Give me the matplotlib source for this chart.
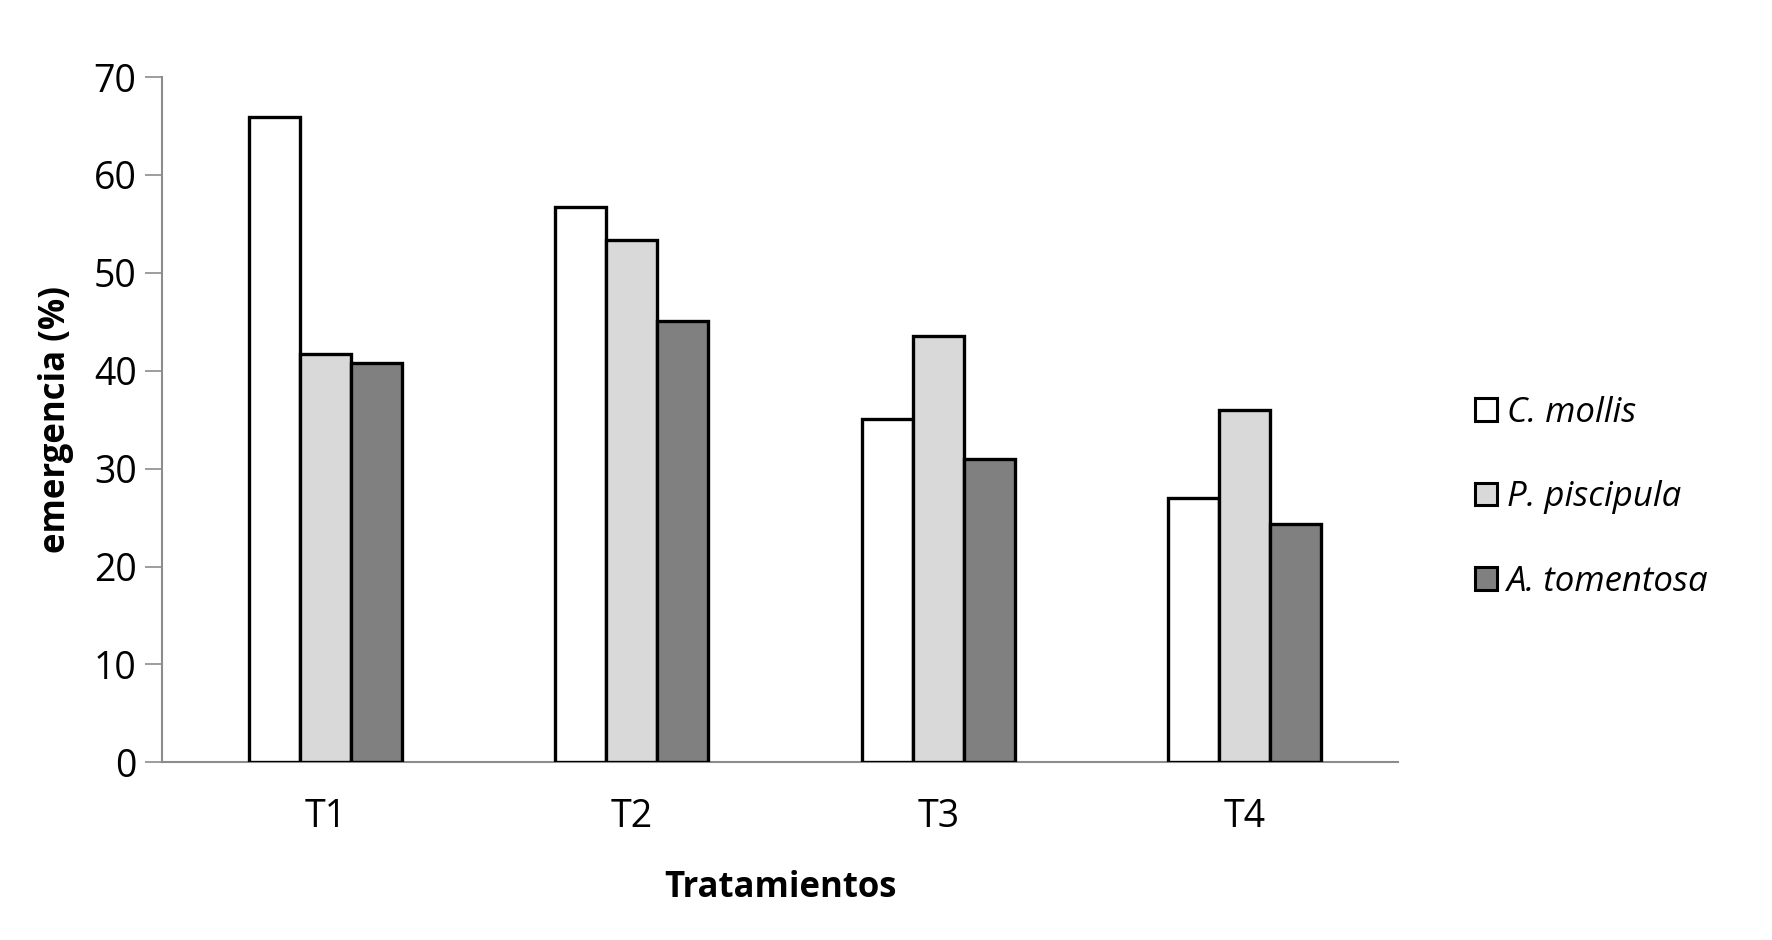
import numpy as np
import matplotlib
matplotlib.use("Agg")
import matplotlib.pyplot as plt

# emergencia (%) por tratamiento y especie
tratamientos = ["T1", "T2", "T3", "T4"]
especies = ["C. mollis", "P. piscipula", "A. tomentosa"]
c_mollis = [65.9, 56.7, 35.1, 27.0]
p_piscipula = [41.7, 53.4, 43.5, 36.0]
a_tomentosa = [40.8, 45.1, 31.0, 24.3]
colores = ["#ffffff", "#d9d9d9", "#808080"]
y_ticks = [0, 10, 20, 30, 40, 50, 60, 70]

plt.rcParams["font.family"] = ["Open Sans", "DejaVu Sans"]

fig = plt.figure(figsize=(17.72, 9.40), dpi=100)
ax = fig.add_axes([0.0912, 0.189, 0.698, 0.729])

x = np.arange(len(tratamientos))
w = 1 / 6
series = [c_mollis, p_piscipula, a_tomentosa]
for i, (vals, name, col) in enumerate(zip(series, especies, colores)):
    ax.bar(x + (i - 1) * w, vals, width=w, color=col, edgecolor="black",
           linewidth=2.4, label=name, zorder=3)

ax.set_xlim(-0.535, len(tratamientos) - 0.498)
ax.set_ylim(0, 70)
ax.set_yticks(y_ticks)
ax.set_xticks(x)
ax.set_xticklabels(tratamientos)
ax.tick_params(axis="y", length=12, width=1.2, color="#8c8c8c", labelsize=27, pad=6)
ax.tick_params(axis="x", length=0, labelsize=27, pad=26)

for s in ["top", "right"]:
    ax.spines[s].set_visible(False)
for s in ["left", "bottom"]:
    ax.spines[s].set_color("#8c8c8c")
    ax.spines[s].set_linewidth(1.5)

ax.set_ylabel("emergencia (%)", fontsize=25, fontweight="bold", labelpad=14)
ax.set_xlabel("Tratamientos", fontsize=25, fontweight="bold", labelpad=24)

leg = fig.legend(loc="center left", bbox_to_anchor=(0.8325, 0.471), frameon=False,
                 prop={"style": "italic", "size": 25},
                 handlelength=0.62, handleheight=0.62, handletextpad=0.3,
                 labelspacing=1.45, borderpad=0, borderaxespad=0)
for h in leg.legend_handles:
    h.set_linewidth(2.2)

fig.savefig("out.png", dpi=100, facecolor="white")
